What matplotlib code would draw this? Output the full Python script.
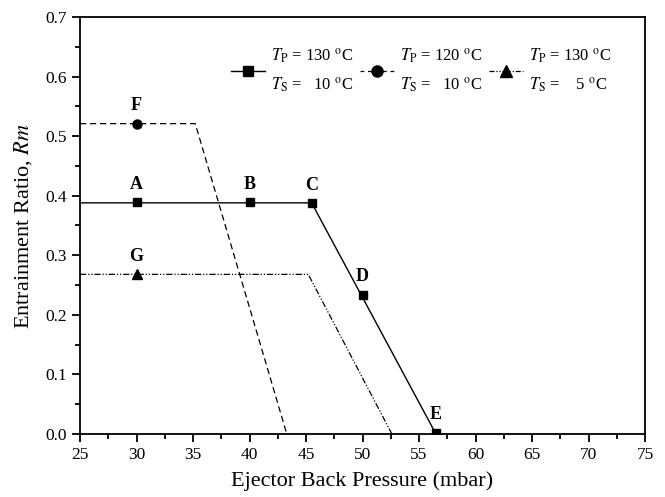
import numpy as np
import matplotlib
matplotlib.use('Agg')
from matplotlib import pyplot as plt
from matplotlib.ticker import MultipleLocator

plt.rcParams['font.family'] = ['Liberation Serif', 'DejaVu Serif']
plt.rcParams['mathtext.fontset'] = 'stix'

# series 1: Tp=130, Ts=10 (solid, squares)
line1_x = [25, 45.5, 56.5]
line1_y = [0.388, 0.388, 0.0]
pts1_x = [30, 40, 45.5, 50, 56.5]
pts1_y = [0.389, 0.389, 0.387, 0.234, 0.002]
pts1_lab = ['A', 'B', 'C', 'D', 'E']

# series 2: Tp=120, Ts=10 (dashed, circle)
line2_x = [25, 35.2, 43.3]
line2_y = [0.521, 0.521, 0.0]
pts2_x = [30]
pts2_y = [0.521]
pts2_lab = ['F']

# series 3: Tp=130, Ts=5 (dash-dot-dot, triangle)
line3_x = [25, 45.2, 52.6]
line3_y = [0.268, 0.268, 0.0]
pts3_x = [30]
pts3_y = [0.268]
pts3_lab = ['G']

fig = plt.figure(figsize=(6.65, 4.97), dpi=100)
ax = fig.add_axes([80/665, 1-434/497, 565/665, 417/497])

ax.plot(line1_x, line1_y, color='black', lw=1.0)
ax.plot(pts1_x, pts1_y, 's', color='black', ms=5.5)
ax.plot(line2_x, line2_y, color='black', lw=0.9, dashes=(5, 3))
ax.plot(pts2_x, pts2_y, 'o', color='black', ms=6.5)
ax.plot(line3_x, line3_y, color='black', lw=0.9, dashes=(5, 1.5, 1, 1.5, 1, 1.5))
ax.plot(pts3_x, pts3_y, '^', color='black', ms=7)

for xs, ys, labs in [(pts1_x, pts1_y, pts1_lab), (pts2_x, pts2_y, pts2_lab), (pts3_x, pts3_y, pts3_lab)]:
    for x, y, t in zip(xs, ys, labs):
        ax.annotate(t, (x, y), xytext=(0, 7), textcoords='offset points',
                    ha='center', va='bottom', fontsize=13, fontweight='bold')

# legend handles
h1, = ax.plot([], [], '-s', color='black', lw=1.0, ms=7)
h2, = ax.plot([], [], 'o', color='black', ms=8, ls=(0, (3, 3)), lw=0.9)
h3, = ax.plot([], [], '^', color='black', ms=8, ls=(0, (4, 1.5, 1, 1.5, 1, 1.5)), lw=0.9)
labels = ['$T_\\mathrm{P}$ = 130 $^\\mathrm{o}$C\n$T_\\mathrm{S}$ =   10 $^\\mathrm{o}$C',
          '$T_\\mathrm{P}$ = 120 $^\\mathrm{o}$C\n$T_\\mathrm{S}$ =   10 $^\\mathrm{o}$C',
          '$T_\\mathrm{P}$ = 130 $^\\mathrm{o}$C\n$T_\\mathrm{S}$ =    5 $^\\mathrm{o}$C']
leg = ax.legend([h1, h2, h3], labels, ncol=3, frameon=False, loc='upper right',
                bbox_to_anchor=(0.966, 0.965), fontsize=12, handlelength=2.0,
                handletextpad=0.35, columnspacing=0.45)
for t in leg.get_texts():
    t.set_linespacing(1.7)

ax.set_xlim(25, 75)
ax.set_ylim(0, 0.7)
ax.xaxis.set_major_locator(MultipleLocator(5))
ax.xaxis.set_minor_locator(MultipleLocator(2.5))
ax.yaxis.set_major_locator(MultipleLocator(0.1))
ax.yaxis.set_minor_locator(MultipleLocator(0.05))
ax.yaxis.set_major_formatter(plt.FormatStrFormatter('%.1f'))
ax.tick_params(which='both', direction='out', top=False, right=False, width=1.3, labelsize=12.5)
ax.tick_params(which='major', length=6)
ax.tick_params(which='minor', length=3.5)
for s in ax.spines.values():
    s.set_linewidth(1.3)

ax.set_xlabel('Ejector Back Pressure (mbar)', fontsize=16, labelpad=6)
ax.set_ylabel('Entrainment Ratio, $\\mathit{Rm}$', fontsize=16, labelpad=8)

fig.savefig('out.png', dpi=100)
